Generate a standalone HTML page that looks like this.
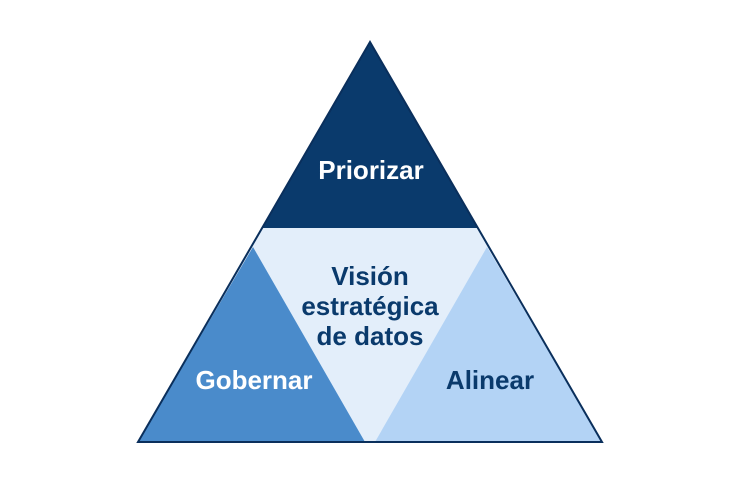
<!DOCTYPE html>
<html><head><meta charset="utf-8"><style>
html,body{margin:0;padding:0;background:#fff;width:740px;height:493px;overflow:hidden}
svg text{font-family:"Liberation Sans",sans-serif;font-weight:bold;font-size:26px;text-anchor:middle}
</style></head><body>
<svg width="740" height="493" viewBox="0 0 740 493">
<polygon points="370,42 138,442 602,442" fill="#e3eefa"/>
<polygon points="370,42 478,228 262,228" fill="#0a3a6c"/>
<polygon points="253,247 365,442 138,442" fill="#4a8bcb"/>
<polygon points="487,247 602,442 375,442" fill="#b3d3f5"/>
<polygon points="370,42 138,442 602,442" fill="none" stroke="#0a2f5c" stroke-width="2" stroke-linejoin="miter"/>
<text x="371" y="179" fill="#fff">Priorizar</text>
<text x="370" y="285" fill="#0a3a6c">Visión</text>
<text x="370" y="315" fill="#0a3a6c">estratégica</text>
<text x="370" y="345" fill="#0a3a6c">de datos</text>
<text x="254" y="389" fill="#fff">Gobernar</text>
<text x="490" y="389" fill="#0a3a6c">Alinear</text>
</svg>
</body></html>
